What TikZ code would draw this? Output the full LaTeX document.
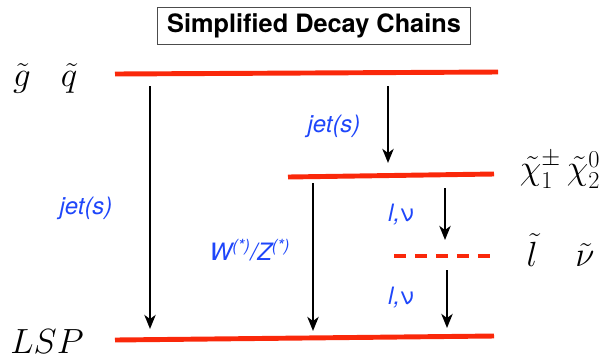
\documentclass[tikz,border=0pt]{standalone}
\usepackage{amsmath}
\usepackage{amssymb}
\usepackage{fontspec}
\setsansfont{TeX Gyre Heros}
\usepackage{tikz}
\usetikzlibrary{arrows.meta}
\usetikzlibrary{calc}
\definecolor{lvlred}{RGB}{250,40,10}
\definecolor{lblblue}{RGB}{30,70,250}

\begin{document}
\begin{tikzpicture}[x=0.025cm,y=-0.025cm]
\useasboundingbox (0,0) rectangle (609,358);
            \begin{scope}[->,>={Stealth[length=3.5mm,width=2.8mm,inset=1mm]},line width=1.8pt,
              level line/.style={-,draw=lvlred,line width=3.5pt},
              mass label/.style={font=\fontsize{23}{27}\selectfont},
              decay label/.style={text=lblblue,font=\sffamily\itshape\fontsize{17}{20}\selectfont}]
            % title
            \node[draw=black!70,line width=0.7pt,minimum width=7.8cm,minimum height=0.925cm,inner sep=0pt,
              font=\sffamily\bfseries\fontsize{18}{21}\selectfont] (title) at (314,26) {Simplified Decay Chains};
            % mass levels
            \coordinate (sq l) at (115,74);
            \coordinate (sq r) at (498,72);
            \coordinate (chi l) at (288,177);
            \coordinate (chi r) at (494,174);
            \coordinate (slep l) at (394,256);
            \coordinate (slep r) at (490,256);
            \coordinate (lsp l) at (115,340);
            \coordinate (lsp r) at (494,336);
            \draw[level line] (sq l) -- (sq r);
            \draw[level line] (chi l) -- (chi r);
            \draw[level line,dash pattern=on 8.5pt off 6.4pt] (slep l) -- (slep r);
            \draw[level line] (lsp l) -- (lsp r);
            \node[mass label] (gluino) at (22,78) {$\tilde g$};
            \node[mass label] (squark) at (69,78) {$\tilde q$};
            \node[mass label] (chargino) at (560,170) {$\tilde\chi_1^\pm\,\tilde\chi_2^0$};
            \node[mass label,anchor=base] (slepton) at (532,266) {$\tilde l$};
            \node[mass label,anchor=base] (sneutrino) at (585,266) {$\tilde \nu$};
            \node[mass label,anchor=base] (lsp) at (47,353) {$LSP$};
            % decays
            \coordinate (d1 s) at (150,86);
            \coordinate (d1 e) at (150,329);
            \coordinate (d2 s) at (388,86);
            \coordinate (d2 e) at (388,163);
            \coordinate (d3 s) at (313,183);
            \coordinate (d3 e) at (313,331);
            \coordinate (d4 s) at (445,188);
            \coordinate (d4 e) at (445,240);
            \coordinate (d5 s) at (447,270);
            \coordinate (d5 e) at (447,328);
            \draw (d1 s) -- (d1 e);
            \draw (d2 s) -- (d2 e);
            \draw (d3 s) -- (d3 e);
            \draw (d4 s) -- (d4 e);
            \draw (d5 s) -- (d5 e);
            \node[decay label] (jets1) at (86,208) {jet(s)};
            \node[decay label] (jets2) at (334,126) {jet(s)};
            \node[decay label] (wz) at (250,250) {W\textsuperscript{(*)}/Z\textsuperscript{(*)}};
            \node[decay label] (lnu1) at (401,215) {l,{\upshape ν}};
            \node[decay label] (lnu2) at (401,298) {l,{\upshape ν}};
            \end{scope}
\end{tikzpicture}
\end{document}
